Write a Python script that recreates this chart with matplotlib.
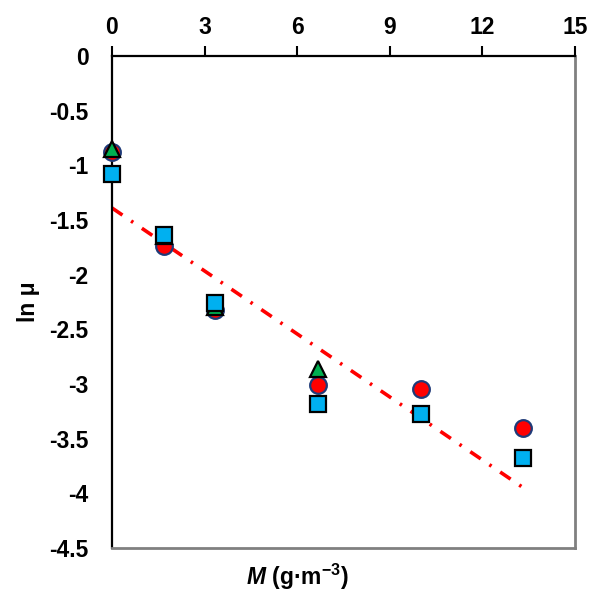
import matplotlib
matplotlib.use("Agg")
import matplotlib.pyplot as plt

plt.rcParams['font.family'] = ['Liberation Sans', 'DejaVu Sans']
plt.rcParams['mathtext.fontset'] = 'custom'
plt.rcParams['mathtext.rm'] = 'Liberation Sans:bold'
plt.rcParams['mathtext.bf'] = 'Liberation Sans:bold'
plt.rcParams['mathtext.it'] = 'Liberation Sans:italic:bold'

# data
x_circle = [0, 1.67, 3.33, 6.67, 10, 13.33]
y_circle = [-0.88, -1.74, -2.32, -3.01, -3.05, -3.40]
x_tri = [0, 1.67, 3.33, 6.67]
y_tri = [-0.85, -1.65, -2.30, -2.86]
x_sq = [0, 1.67, 3.33, 6.67, 10, 13.33]
y_sq = [-1.08, -1.64, -2.26, -3.18, -3.27, -3.68]
line_x = [0, 13.33]
line_y = [-1.39, -3.95]
x_ticks = [0, 3, 6, 9, 12, 15]
y_ticks = [0, -0.5, -1, -1.5, -2, -2.5, -3, -3.5, -4, -4.5]
y_ticklabels = ['0', '-0.5', '-1', '-1.5', '-2', '-2.5', '-3', '-3.5', '-4', '-4.5']

W, H = 593, 594
fig = plt.figure(figsize=(W / 100, H / 100), dpi=100)
L, R, T, B = 112, 575, 56, 548
ax = fig.add_axes([L / W, 1 - B / H, (R - L) / W, (B - T) / H])

ax.plot(line_x, line_y, color='#FF0000', lw=2.6,
        linestyle=(0, (3.5, 2.9, 0.7, 2.9)), zorder=2)
ax.plot(x_circle, y_circle, 'o', ms=12, mfc='#FF0000', mec='#1F3A78', mew=1.6, zorder=3, clip_on=False)
ax.plot(x_tri, y_tri, '^', ms=12, mfc='#00B050', mec='black', mew=1.6, zorder=4, clip_on=False)
ax.plot(x_sq, y_sq, 's', ms=12, mfc='#00B0F0', mec='black', mew=1.6, zorder=5, clip_on=False)

ax.set_xlim(0, 15)
ax.set_ylim(-4.5, 0)
ax.xaxis.tick_top()
ax.set_xticks(x_ticks)
ax.set_xticklabels([str(v) for v in x_ticks], fontsize=16.5, fontweight='bold')
ax.set_yticks(y_ticks)
ax.set_yticklabels(y_ticklabels, fontsize=16.5, fontweight='bold')
ax.tick_params(axis='x', direction='out', length=7, width=1.5, pad=5, color='black')
ax.tick_params(axis='y', length=0, pad=17)

for s in ['left', 'top']:
    ax.spines[s].set_color('black')
    ax.spines[s].set_linewidth(1.6)
for s in ['right', 'bottom']:
    ax.spines[s].set_color('#808080')
    ax.spines[s].set_linewidth(2.0)

fig.text(28 / W, 1 - 302 / H, 'ln μ', rotation=90, ha='center', va='center',
         fontsize=16.5, fontweight='bold')
fig.text(297 / W, 1 - 577 / H, r'$M$ (g·m$^{-3}$)', ha='center', va='center',
         fontsize=16.5, fontweight='bold')

fig.savefig('out.png', dpi=100)
